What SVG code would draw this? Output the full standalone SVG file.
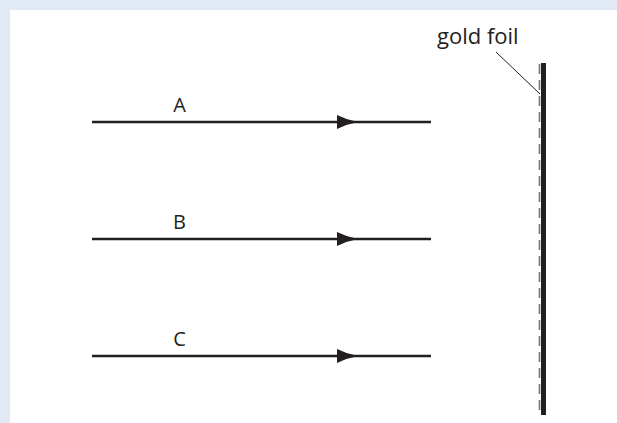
<svg xmlns="http://www.w3.org/2000/svg" width="617" height="423" viewBox="0 0 617 423">
<defs>
<style>
.lbl{font-family:"Open Sans","Noto Sans",sans-serif;font-size:20px;fill:#231f20}
.ray{stroke:#231f20;stroke-width:2.5;fill:none}
.head{fill:#231f20}
</style>
<path id="ah" d="M-21,-7 Q-11,-2 0,0 Q-11,2 -21,7 Z"/>
</defs>
<rect x="0" y="0" width="617" height="423" fill="#e1e9f5"/>
<rect x="10" y="10" width="607" height="413" fill="#ffffff"/>
<g id="connectors">
<line class="ray" x1="92" y1="122" x2="431" y2="122"/>
<use href="#ah" class="head" x="358" y="122"/>
<line class="ray" x1="92" y1="239" x2="431" y2="239"/>
<use href="#ah" class="head" x="358" y="239"/>
<line class="ray" x1="92" y1="356" x2="431" y2="356"/>
<use href="#ah" class="head" x="358" y="356"/>
<line x1="496" y1="52" x2="540" y2="94" stroke="#231f20" stroke-width="1"/>
</g>
<g id="foil">
<rect x="541" y="63" width="5" height="352" fill="#231f20"/>
<line x1="539.5" y1="64" x2="539.5" y2="415" stroke="#777" stroke-width="1.6" stroke-dasharray="10 6"/>
</g>
<g id="label-foil"><text class="lbl" x="437" y="44" style="font-size:22px">gold foil</text></g>
<g id="label-A"><text class="lbl" x="179.5" y="112" text-anchor="middle">A</text></g>
<g id="label-B"><text class="lbl" x="179.5" y="229" text-anchor="middle">B</text></g>
<g id="label-C"><text class="lbl" x="179.5" y="346" text-anchor="middle">C</text></g>
</svg>
